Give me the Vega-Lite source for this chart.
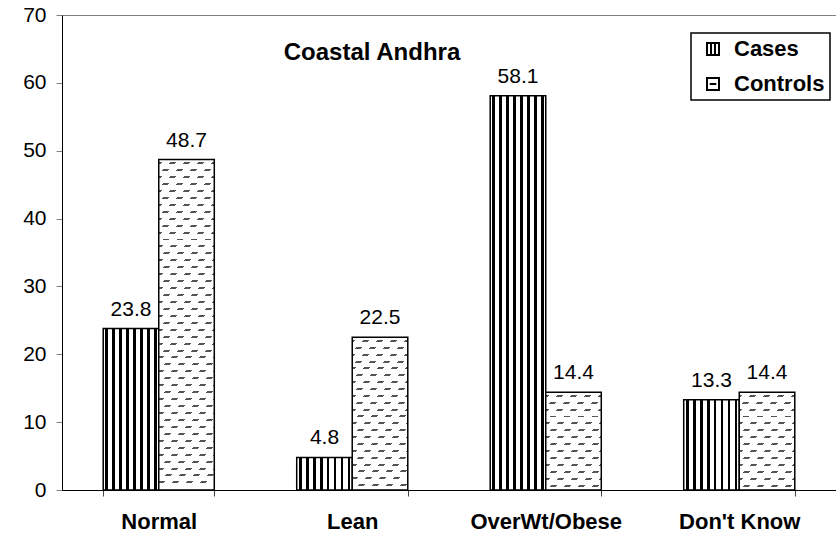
{
 "$schema": "https://vega.github.io/schema/vega-lite/v6.json",
 "width": 774, "height": 475,
 "autosize": {"type": "none"},
 "padding": {"left": 62, "top": 15, "right": 0, "bottom": 50},
 "background": "white",
 "config": {"font": "Liberation Sans", "view": {"stroke": "#808080", "strokeWidth": 1}, "legend": {"strokeWidth": 1.5}},
 "title": {"text": "Coastal Andhra", "fontSize": 24, "fontWeight": "bold", "font": "Liberation Sans", "color": "black", "anchor": "middle", "frame": "group", "dx": -77, "offset": -80, "baseline": "alphabetic"},
 "data": {"values": [
  {"category": "Normal", "series": "Cases", "value": 23.8},
  {"category": "Normal", "series": "Controls", "value": 48.7},
  {"category": "Lean", "series": "Cases", "value": 4.8},
  {"category": "Lean", "series": "Controls", "value": 22.5},
  {"category": "OverWt/Obese", "series": "Cases", "value": 58.1},
  {"category": "OverWt/Obese", "series": "Controls", "value": 14.4},
  {"category": "Don't Know", "series": "Cases", "value": 13.3},
  {"category": "Don't Know", "series": "Controls", "value": 14.4}
 ]},
 "encoding": {
  "x": {"field": "category", "type": "nominal", "sort": ["Normal", "Lean", "OverWt/Obese", "Don't Know"],
        "scale": {"paddingInner": 0.426, "paddingOuter": 0.213},
        "axis": {"title": null, "labelAngle": 0, "labelFontSize": 22, "labelFontWeight": "bold", "labelColor": "black", "labelFont": "Liberation Sans", "tickBand": "extent", "tickSize": 6, "tickColor": "#444", "domainColor": "black", "domainWidth": 1, "labelPadding": 15, "grid": false}},
  "xOffset": {"field": "series", "type": "nominal", "sort": ["Cases", "Controls"], "scale": {"paddingInner": 0, "paddingOuter": 0}},
  "y": {"field": "value", "type": "quantitative", "scale": {"domain": [0, 70], "nice": false},
        "axis": {"title": null, "values": [0, 10, 20, 30, 40, 50, 60, 70], "labelFontSize": 21, "labelColor": "black", "labelFont": "Liberation Sans", "tickSize": 6, "tickColor": "#808080", "domainColor": "black", "domainWidth": 1, "labelPadding": 10, "grid": false}}
 },
 "layer": [
  {"transform": [{"filter": "datum.series == 'Cases'"}],
   "mark": {"type": "bar", "stroke": "black", "strokeWidth": 1.5,
    "fill": {"gradient": "linear", "x1": 0, "y1": 0, "x2": 1, "y2": 0, "stops": [
     {"offset": 0, "color": "#fff"},
     {"offset": 0.04, "color": "#fff"}, {"offset": 0.04, "color": "#000"}, {"offset": 0.09, "color": "#000"}, {"offset": 0.09, "color": "#fff"},
     {"offset": 0.165, "color": "#fff"}, {"offset": 0.165, "color": "#000"}, {"offset": 0.215, "color": "#000"}, {"offset": 0.215, "color": "#fff"},
     {"offset": 0.29, "color": "#fff"}, {"offset": 0.29, "color": "#000"}, {"offset": 0.34, "color": "#000"}, {"offset": 0.34, "color": "#fff"},
     {"offset": 0.415, "color": "#fff"}, {"offset": 0.415, "color": "#000"}, {"offset": 0.465, "color": "#000"}, {"offset": 0.465, "color": "#fff"},
     {"offset": 0.54, "color": "#fff"}, {"offset": 0.54, "color": "#000"}, {"offset": 0.59, "color": "#000"}, {"offset": 0.59, "color": "#fff"},
     {"offset": 0.665, "color": "#fff"}, {"offset": 0.665, "color": "#000"}, {"offset": 0.715, "color": "#000"}, {"offset": 0.715, "color": "#fff"},
     {"offset": 0.79, "color": "#fff"}, {"offset": 0.79, "color": "#000"}, {"offset": 0.84, "color": "#000"}, {"offset": 0.84, "color": "#fff"},
     {"offset": 0.915, "color": "#fff"}, {"offset": 0.915, "color": "#000"}, {"offset": 0.965, "color": "#000"}, {"offset": 0.965, "color": "#fff"},
     {"offset": 1, "color": "#fff"}
    ]}}},
  {"transform": [{"filter": "datum.series == 'Controls' && datum.category == 'Normal'"}],
   "mark": {"type": "bar", "strokeWidth": 0,
    "fill": {"gradient": "linear", "x1": 0, "y1": 0, "x2": 0, "y2": 1, "stops": [
     {"offset": 0, "color": "#fff"},
     {"offset": 0.008, "color": "#fff"}, {"offset": 0.008, "color": "#555"}, {"offset": 0.014, "color": "#555"}, {"offset": 0.014, "color": "#fff"},
     {"offset": 0.029, "color": "#fff"}, {"offset": 0.029, "color": "#555"}, {"offset": 0.035, "color": "#555"}, {"offset": 0.035, "color": "#fff"},
     {"offset": 0.050, "color": "#fff"}, {"offset": 0.050, "color": "#555"}, {"offset": 0.056, "color": "#555"}, {"offset": 0.056, "color": "#fff"},
     {"offset": 0.071, "color": "#fff"}, {"offset": 0.071, "color": "#555"}, {"offset": 0.077, "color": "#555"}, {"offset": 0.077, "color": "#fff"},
     {"offset": 0.092, "color": "#fff"}, {"offset": 0.092, "color": "#555"}, {"offset": 0.098, "color": "#555"}, {"offset": 0.098, "color": "#fff"},
     {"offset": 0.113, "color": "#fff"}, {"offset": 0.113, "color": "#555"}, {"offset": 0.119, "color": "#555"}, {"offset": 0.119, "color": "#fff"},
     {"offset": 0.134, "color": "#fff"}, {"offset": 0.134, "color": "#555"}, {"offset": 0.140, "color": "#555"}, {"offset": 0.140, "color": "#fff"},
     {"offset": 0.155, "color": "#fff"}, {"offset": 0.155, "color": "#555"}, {"offset": 0.161, "color": "#555"}, {"offset": 0.161, "color": "#fff"},
     {"offset": 0.176, "color": "#fff"}, {"offset": 0.176, "color": "#555"}, {"offset": 0.182, "color": "#555"}, {"offset": 0.182, "color": "#fff"},
     {"offset": 0.197, "color": "#fff"}, {"offset": 0.197, "color": "#555"}, {"offset": 0.203, "color": "#555"}, {"offset": 0.203, "color": "#fff"},
     {"offset": 0.218, "color": "#fff"}, {"offset": 0.218, "color": "#555"}, {"offset": 0.224, "color": "#555"}, {"offset": 0.224, "color": "#fff"},
     {"offset": 0.239, "color": "#fff"}, {"offset": 0.239, "color": "#555"}, {"offset": 0.245, "color": "#555"}, {"offset": 0.245, "color": "#fff"},
     {"offset": 0.260, "color": "#fff"}, {"offset": 0.260, "color": "#555"}, {"offset": 0.266, "color": "#555"}, {"offset": 0.266, "color": "#fff"},
     {"offset": 0.281, "color": "#fff"}, {"offset": 0.281, "color": "#555"}, {"offset": 0.287, "color": "#555"}, {"offset": 0.287, "color": "#fff"},
     {"offset": 0.302, "color": "#fff"}, {"offset": 0.302, "color": "#555"}, {"offset": 0.308, "color": "#555"}, {"offset": 0.308, "color": "#fff"},
     {"offset": 0.323, "color": "#fff"}, {"offset": 0.323, "color": "#555"}, {"offset": 0.329, "color": "#555"}, {"offset": 0.329, "color": "#fff"},
     {"offset": 0.344, "color": "#fff"}, {"offset": 0.344, "color": "#555"}, {"offset": 0.350, "color": "#555"}, {"offset": 0.350, "color": "#fff"},
     {"offset": 0.365, "color": "#fff"}, {"offset": 0.365, "color": "#555"}, {"offset": 0.371, "color": "#555"}, {"offset": 0.371, "color": "#fff"},
     {"offset": 0.386, "color": "#fff"}, {"offset": 0.386, "color": "#555"}, {"offset": 0.392, "color": "#555"}, {"offset": 0.392, "color": "#fff"},
     {"offset": 0.407, "color": "#fff"}, {"offset": 0.407, "color": "#555"}, {"offset": 0.413, "color": "#555"}, {"offset": 0.413, "color": "#fff"},
     {"offset": 0.428, "color": "#fff"}, {"offset": 0.428, "color": "#555"}, {"offset": 0.434, "color": "#555"}, {"offset": 0.434, "color": "#fff"},
     {"offset": 0.449, "color": "#fff"}, {"offset": 0.449, "color": "#555"}, {"offset": 0.455, "color": "#555"}, {"offset": 0.455, "color": "#fff"},
     {"offset": 0.470, "color": "#fff"}, {"offset": 0.470, "color": "#555"}, {"offset": 0.476, "color": "#555"}, {"offset": 0.476, "color": "#fff"},
     {"offset": 0.491, "color": "#fff"}, {"offset": 0.491, "color": "#555"}, {"offset": 0.497, "color": "#555"}, {"offset": 0.497, "color": "#fff"},
     {"offset": 0.512, "color": "#fff"}, {"offset": 0.512, "color": "#555"}, {"offset": 0.518, "color": "#555"}, {"offset": 0.518, "color": "#fff"},
     {"offset": 0.533, "color": "#fff"}, {"offset": 0.533, "color": "#555"}, {"offset": 0.539, "color": "#555"}, {"offset": 0.539, "color": "#fff"},
     {"offset": 0.554, "color": "#fff"}, {"offset": 0.554, "color": "#555"}, {"offset": 0.560, "color": "#555"}, {"offset": 0.560, "color": "#fff"},
     {"offset": 0.575, "color": "#fff"}, {"offset": 0.575, "color": "#555"}, {"offset": 0.581, "color": "#555"}, {"offset": 0.581, "color": "#fff"},
     {"offset": 0.596, "color": "#fff"}, {"offset": 0.596, "color": "#555"}, {"offset": 0.602, "color": "#555"}, {"offset": 0.602, "color": "#fff"},
     {"offset": 0.617, "color": "#fff"}, {"offset": 0.617, "color": "#555"}, {"offset": 0.623, "color": "#555"}, {"offset": 0.623, "color": "#fff"},
     {"offset": 0.638, "color": "#fff"}, {"offset": 0.638, "color": "#555"}, {"offset": 0.644, "color": "#555"}, {"offset": 0.644, "color": "#fff"},
     {"offset": 0.659, "color": "#fff"}, {"offset": 0.659, "color": "#555"}, {"offset": 0.665, "color": "#555"}, {"offset": 0.665, "color": "#fff"},
     {"offset": 0.680, "color": "#fff"}, {"offset": 0.680, "color": "#555"}, {"offset": 0.686, "color": "#555"}, {"offset": 0.686, "color": "#fff"},
     {"offset": 0.701, "color": "#fff"}, {"offset": 0.701, "color": "#555"}, {"offset": 0.707, "color": "#555"}, {"offset": 0.707, "color": "#fff"},
     {"offset": 0.722, "color": "#fff"}, {"offset": 0.722, "color": "#555"}, {"offset": 0.728, "color": "#555"}, {"offset": 0.728, "color": "#fff"},
     {"offset": 0.743, "color": "#fff"}, {"offset": 0.743, "color": "#555"}, {"offset": 0.749, "color": "#555"}, {"offset": 0.749, "color": "#fff"},
     {"offset": 0.764, "color": "#fff"}, {"offset": 0.764, "color": "#555"}, {"offset": 0.770, "color": "#555"}, {"offset": 0.770, "color": "#fff"},
     {"offset": 0.785, "color": "#fff"}, {"offset": 0.785, "color": "#555"}, {"offset": 0.791, "color": "#555"}, {"offset": 0.791, "color": "#fff"},
     {"offset": 0.806, "color": "#fff"}, {"offset": 0.806, "color": "#555"}, {"offset": 0.812, "color": "#555"}, {"offset": 0.812, "color": "#fff"},
     {"offset": 0.827, "color": "#fff"}, {"offset": 0.827, "color": "#555"}, {"offset": 0.833, "color": "#555"}, {"offset": 0.833, "color": "#fff"},
     {"offset": 0.848, "color": "#fff"}, {"offset": 0.848, "color": "#555"}, {"offset": 0.854, "color": "#555"}, {"offset": 0.854, "color": "#fff"},
     {"offset": 0.869, "color": "#fff"}, {"offset": 0.869, "color": "#555"}, {"offset": 0.875, "color": "#555"}, {"offset": 0.875, "color": "#fff"},
     {"offset": 0.890, "color": "#fff"}, {"offset": 0.890, "color": "#555"}, {"offset": 0.896, "color": "#555"}, {"offset": 0.896, "color": "#fff"},
     {"offset": 0.911, "color": "#fff"}, {"offset": 0.911, "color": "#555"}, {"offset": 0.917, "color": "#555"}, {"offset": 0.917, "color": "#fff"},
     {"offset": 0.932, "color": "#fff"}, {"offset": 0.932, "color": "#555"}, {"offset": 0.938, "color": "#555"}, {"offset": 0.938, "color": "#fff"},
     {"offset": 0.953, "color": "#fff"}, {"offset": 0.953, "color": "#555"}, {"offset": 0.959, "color": "#555"}, {"offset": 0.959, "color": "#fff"},
     {"offset": 0.974, "color": "#fff"}, {"offset": 0.974, "color": "#555"}, {"offset": 0.980, "color": "#555"}, {"offset": 0.980, "color": "#fff"},
     {"offset": 1, "color": "#fff"}
    ]}}},
  {"transform": [{"filter": "datum.series == 'Controls' && datum.category == 'Normal'"}],
   "mark": {"type": "bar", "strokeWidth": 0,
    "fill": {"gradient": "linear", "x1": 0, "y1": 0, "x2": 0.1937, "y2": 1.1536, "stops": [
     {"offset": 0, "color": "rgba(255,255,255,0)"}, {"offset": 0.0161, "color": "rgba(255,255,255,0)"}, {"offset": 0.0161, "color": "#fff"}, {"offset": 0.0357, "color": "#fff"},
     {"offset": 0.0357, "color": "rgba(255,255,255,0)"}, {"offset": 0.0518, "color": "rgba(255,255,255,0)"}, {"offset": 0.0518, "color": "#fff"}, {"offset": 0.0714, "color": "#fff"},
     {"offset": 0.0714, "color": "rgba(255,255,255,0)"}, {"offset": 0.0875, "color": "rgba(255,255,255,0)"}, {"offset": 0.0875, "color": "#fff"}, {"offset": 0.1071, "color": "#fff"},
     {"offset": 0.1071, "color": "rgba(255,255,255,0)"}, {"offset": 0.1232, "color": "rgba(255,255,255,0)"}, {"offset": 0.1232, "color": "#fff"}, {"offset": 0.1429, "color": "#fff"},
     {"offset": 0.1429, "color": "rgba(255,255,255,0)"}, {"offset": 0.1590, "color": "rgba(255,255,255,0)"}, {"offset": 0.1590, "color": "#fff"}, {"offset": 0.1786, "color": "#fff"},
     {"offset": 0.1786, "color": "rgba(255,255,255,0)"}, {"offset": 0.1947, "color": "rgba(255,255,255,0)"}, {"offset": 0.1947, "color": "#fff"}, {"offset": 0.2143, "color": "#fff"},
     {"offset": 0.2143, "color": "rgba(255,255,255,0)"}, {"offset": 0.2304, "color": "rgba(255,255,255,0)"}, {"offset": 0.2304, "color": "#fff"}, {"offset": 0.25, "color": "#fff"},
     {"offset": 0.25, "color": "rgba(255,255,255,0)"}, {"offset": 0.2661, "color": "rgba(255,255,255,0)"}, {"offset": 0.2661, "color": "#fff"}, {"offset": 0.2857, "color": "#fff"},
     {"offset": 0.2857, "color": "rgba(255,255,255,0)"}, {"offset": 0.3018, "color": "rgba(255,255,255,0)"}, {"offset": 0.3018, "color": "#fff"}, {"offset": 0.3214, "color": "#fff"},
     {"offset": 0.3214, "color": "rgba(255,255,255,0)"}, {"offset": 0.3375, "color": "rgba(255,255,255,0)"}, {"offset": 0.3375, "color": "#fff"}, {"offset": 0.3571, "color": "#fff"},
     {"offset": 0.3571, "color": "rgba(255,255,255,0)"}, {"offset": 0.3732, "color": "rgba(255,255,255,0)"}, {"offset": 0.3732, "color": "#fff"}, {"offset": 0.3929, "color": "#fff"},
     {"offset": 0.3929, "color": "rgba(255,255,255,0)"}, {"offset": 0.4090, "color": "rgba(255,255,255,0)"}, {"offset": 0.4090, "color": "#fff"}, {"offset": 0.4286, "color": "#fff"},
     {"offset": 0.4286, "color": "rgba(255,255,255,0)"}, {"offset": 0.4447, "color": "rgba(255,255,255,0)"}, {"offset": 0.4447, "color": "#fff"}, {"offset": 0.4643, "color": "#fff"},
     {"offset": 0.4643, "color": "rgba(255,255,255,0)"}, {"offset": 0.4804, "color": "rgba(255,255,255,0)"}, {"offset": 0.4804, "color": "#fff"}, {"offset": 0.5, "color": "#fff"},
     {"offset": 0.5, "color": "rgba(255,255,255,0)"}, {"offset": 0.5161, "color": "rgba(255,255,255,0)"}, {"offset": 0.5161, "color": "#fff"}, {"offset": 0.5357, "color": "#fff"},
     {"offset": 0.5357, "color": "rgba(255,255,255,0)"}, {"offset": 0.5518, "color": "rgba(255,255,255,0)"}, {"offset": 0.5518, "color": "#fff"}, {"offset": 0.5714, "color": "#fff"},
     {"offset": 0.5714, "color": "rgba(255,255,255,0)"}, {"offset": 0.5875, "color": "rgba(255,255,255,0)"}, {"offset": 0.5875, "color": "#fff"}, {"offset": 0.6071, "color": "#fff"},
     {"offset": 0.6071, "color": "rgba(255,255,255,0)"}, {"offset": 0.6232, "color": "rgba(255,255,255,0)"}, {"offset": 0.6232, "color": "#fff"}, {"offset": 0.6429, "color": "#fff"},
     {"offset": 0.6429, "color": "rgba(255,255,255,0)"}, {"offset": 0.6590, "color": "rgba(255,255,255,0)"}, {"offset": 0.6590, "color": "#fff"}, {"offset": 0.6786, "color": "#fff"},
     {"offset": 0.6786, "color": "rgba(255,255,255,0)"}, {"offset": 0.6947, "color": "rgba(255,255,255,0)"}, {"offset": 0.6947, "color": "#fff"}, {"offset": 0.7143, "color": "#fff"},
     {"offset": 0.7143, "color": "rgba(255,255,255,0)"}, {"offset": 0.7304, "color": "rgba(255,255,255,0)"}, {"offset": 0.7304, "color": "#fff"}, {"offset": 0.75, "color": "#fff"},
     {"offset": 0.75, "color": "rgba(255,255,255,0)"}, {"offset": 0.7661, "color": "rgba(255,255,255,0)"}, {"offset": 0.7661, "color": "#fff"}, {"offset": 0.7857, "color": "#fff"},
     {"offset": 0.7857, "color": "rgba(255,255,255,0)"}, {"offset": 0.8018, "color": "rgba(255,255,255,0)"}, {"offset": 0.8018, "color": "#fff"}, {"offset": 0.8214, "color": "#fff"},
     {"offset": 0.8214, "color": "rgba(255,255,255,0)"}, {"offset": 0.8375, "color": "rgba(255,255,255,0)"}, {"offset": 0.8375, "color": "#fff"}, {"offset": 0.8571, "color": "#fff"},
     {"offset": 0.8571, "color": "rgba(255,255,255,0)"}, {"offset": 0.8732, "color": "rgba(255,255,255,0)"}, {"offset": 0.8732, "color": "#fff"}, {"offset": 0.8929, "color": "#fff"},
     {"offset": 0.8929, "color": "rgba(255,255,255,0)"}, {"offset": 0.9090, "color": "rgba(255,255,255,0)"}, {"offset": 0.9090, "color": "#fff"}, {"offset": 0.9286, "color": "#fff"},
     {"offset": 0.9286, "color": "rgba(255,255,255,0)"}, {"offset": 0.9447, "color": "rgba(255,255,255,0)"}, {"offset": 0.9447, "color": "#fff"}, {"offset": 0.9643, "color": "#fff"},
     {"offset": 0.9643, "color": "rgba(255,255,255,0)"}, {"offset": 0.9804, "color": "rgba(255,255,255,0)"}, {"offset": 0.9804, "color": "#fff"}, {"offset": 1, "color": "#fff"}
    ]}}},
  {"transform": [{"filter": "datum.series == 'Controls' && datum.category == 'Lean'"}],
   "mark": {"type": "bar", "strokeWidth": 0,
    "fill": {"gradient": "linear", "x1": 0, "y1": 0, "x2": 0, "y2": 1, "stops": [
     {"offset": 0, "color": "#fff"},
     {"offset": 0.017, "color": "#fff"}, {"offset": 0.017, "color": "#555"}, {"offset": 0.030, "color": "#555"}, {"offset": 0.030, "color": "#fff"},
     {"offset": 0.062, "color": "#fff"}, {"offset": 0.062, "color": "#555"}, {"offset": 0.075, "color": "#555"}, {"offset": 0.075, "color": "#fff"},
     {"offset": 0.107, "color": "#fff"}, {"offset": 0.107, "color": "#555"}, {"offset": 0.120, "color": "#555"}, {"offset": 0.120, "color": "#fff"},
     {"offset": 0.152, "color": "#fff"}, {"offset": 0.152, "color": "#555"}, {"offset": 0.165, "color": "#555"}, {"offset": 0.165, "color": "#fff"},
     {"offset": 0.197, "color": "#fff"}, {"offset": 0.197, "color": "#555"}, {"offset": 0.210, "color": "#555"}, {"offset": 0.210, "color": "#fff"},
     {"offset": 0.242, "color": "#fff"}, {"offset": 0.242, "color": "#555"}, {"offset": 0.255, "color": "#555"}, {"offset": 0.255, "color": "#fff"},
     {"offset": 0.287, "color": "#fff"}, {"offset": 0.287, "color": "#555"}, {"offset": 0.300, "color": "#555"}, {"offset": 0.300, "color": "#fff"},
     {"offset": 0.332, "color": "#fff"}, {"offset": 0.332, "color": "#555"}, {"offset": 0.345, "color": "#555"}, {"offset": 0.345, "color": "#fff"},
     {"offset": 0.377, "color": "#fff"}, {"offset": 0.377, "color": "#555"}, {"offset": 0.390, "color": "#555"}, {"offset": 0.390, "color": "#fff"},
     {"offset": 0.422, "color": "#fff"}, {"offset": 0.422, "color": "#555"}, {"offset": 0.435, "color": "#555"}, {"offset": 0.435, "color": "#fff"},
     {"offset": 0.467, "color": "#fff"}, {"offset": 0.467, "color": "#555"}, {"offset": 0.480, "color": "#555"}, {"offset": 0.480, "color": "#fff"},
     {"offset": 0.512, "color": "#fff"}, {"offset": 0.512, "color": "#555"}, {"offset": 0.525, "color": "#555"}, {"offset": 0.525, "color": "#fff"},
     {"offset": 0.557, "color": "#fff"}, {"offset": 0.557, "color": "#555"}, {"offset": 0.570, "color": "#555"}, {"offset": 0.570, "color": "#fff"},
     {"offset": 0.602, "color": "#fff"}, {"offset": 0.602, "color": "#555"}, {"offset": 0.615, "color": "#555"}, {"offset": 0.615, "color": "#fff"},
     {"offset": 0.647, "color": "#fff"}, {"offset": 0.647, "color": "#555"}, {"offset": 0.660, "color": "#555"}, {"offset": 0.660, "color": "#fff"},
     {"offset": 0.692, "color": "#fff"}, {"offset": 0.692, "color": "#555"}, {"offset": 0.705, "color": "#555"}, {"offset": 0.705, "color": "#fff"},
     {"offset": 0.737, "color": "#fff"}, {"offset": 0.737, "color": "#555"}, {"offset": 0.750, "color": "#555"}, {"offset": 0.750, "color": "#fff"},
     {"offset": 0.782, "color": "#fff"}, {"offset": 0.782, "color": "#555"}, {"offset": 0.795, "color": "#555"}, {"offset": 0.795, "color": "#fff"},
     {"offset": 0.827, "color": "#fff"}, {"offset": 0.827, "color": "#555"}, {"offset": 0.840, "color": "#555"}, {"offset": 0.840, "color": "#fff"},
     {"offset": 0.872, "color": "#fff"}, {"offset": 0.872, "color": "#555"}, {"offset": 0.885, "color": "#555"}, {"offset": 0.885, "color": "#fff"},
     {"offset": 0.917, "color": "#fff"}, {"offset": 0.917, "color": "#555"}, {"offset": 0.930, "color": "#555"}, {"offset": 0.930, "color": "#fff"},
     {"offset": 0.962, "color": "#fff"}, {"offset": 0.962, "color": "#555"}, {"offset": 0.975, "color": "#555"}, {"offset": 0.975, "color": "#fff"},
     {"offset": 1, "color": "#fff"}
    ]}}},
  {"transform": [{"filter": "datum.series == 'Controls' && datum.category == 'Lean'"}],
   "mark": {"type": "bar", "strokeWidth": 0,
    "fill": {"gradient": "linear", "x1": 0, "y1": 0, "x2": 0.4415, "y2": 1.2148, "stops": [
     {"offset": 0, "color": "rgba(255,255,255,0)"}, {"offset": 0.03, "color": "rgba(255,255,255,0)"}, {"offset": 0.03, "color": "#fff"}, {"offset": 0.0667, "color": "#fff"},
     {"offset": 0.0667, "color": "rgba(255,255,255,0)"}, {"offset": 0.0967, "color": "rgba(255,255,255,0)"}, {"offset": 0.0967, "color": "#fff"}, {"offset": 0.1333, "color": "#fff"},
     {"offset": 0.1333, "color": "rgba(255,255,255,0)"}, {"offset": 0.1633, "color": "rgba(255,255,255,0)"}, {"offset": 0.1633, "color": "#fff"}, {"offset": 0.2, "color": "#fff"},
     {"offset": 0.2, "color": "rgba(255,255,255,0)"}, {"offset": 0.23, "color": "rgba(255,255,255,0)"}, {"offset": 0.23, "color": "#fff"}, {"offset": 0.2667, "color": "#fff"},
     {"offset": 0.2667, "color": "rgba(255,255,255,0)"}, {"offset": 0.2967, "color": "rgba(255,255,255,0)"}, {"offset": 0.2967, "color": "#fff"}, {"offset": 0.3333, "color": "#fff"},
     {"offset": 0.3333, "color": "rgba(255,255,255,0)"}, {"offset": 0.3633, "color": "rgba(255,255,255,0)"}, {"offset": 0.3633, "color": "#fff"}, {"offset": 0.4, "color": "#fff"},
     {"offset": 0.4, "color": "rgba(255,255,255,0)"}, {"offset": 0.43, "color": "rgba(255,255,255,0)"}, {"offset": 0.43, "color": "#fff"}, {"offset": 0.4667, "color": "#fff"},
     {"offset": 0.4667, "color": "rgba(255,255,255,0)"}, {"offset": 0.4967, "color": "rgba(255,255,255,0)"}, {"offset": 0.4967, "color": "#fff"}, {"offset": 0.5333, "color": "#fff"},
     {"offset": 0.5333, "color": "rgba(255,255,255,0)"}, {"offset": 0.5633, "color": "rgba(255,255,255,0)"}, {"offset": 0.5633, "color": "#fff"}, {"offset": 0.6, "color": "#fff"},
     {"offset": 0.6, "color": "rgba(255,255,255,0)"}, {"offset": 0.63, "color": "rgba(255,255,255,0)"}, {"offset": 0.63, "color": "#fff"}, {"offset": 0.6667, "color": "#fff"},
     {"offset": 0.6667, "color": "rgba(255,255,255,0)"}, {"offset": 0.6967, "color": "rgba(255,255,255,0)"}, {"offset": 0.6967, "color": "#fff"}, {"offset": 0.7333, "color": "#fff"},
     {"offset": 0.7333, "color": "rgba(255,255,255,0)"}, {"offset": 0.7633, "color": "rgba(255,255,255,0)"}, {"offset": 0.7633, "color": "#fff"}, {"offset": 0.8, "color": "#fff"},
     {"offset": 0.8, "color": "rgba(255,255,255,0)"}, {"offset": 0.83, "color": "rgba(255,255,255,0)"}, {"offset": 0.83, "color": "#fff"}, {"offset": 0.8667, "color": "#fff"},
     {"offset": 0.8667, "color": "rgba(255,255,255,0)"}, {"offset": 0.8967, "color": "rgba(255,255,255,0)"}, {"offset": 0.8967, "color": "#fff"}, {"offset": 0.9333, "color": "#fff"},
     {"offset": 0.9333, "color": "rgba(255,255,255,0)"}, {"offset": 0.9633, "color": "rgba(255,255,255,0)"}, {"offset": 0.9633, "color": "#fff"}, {"offset": 1, "color": "#fff"}
    ]}}},
  {"transform": [{"filter": "datum.series == 'Controls' && datum.value < 15"}],
   "mark": {"type": "bar", "strokeWidth": 0,
    "fill": {"gradient": "linear", "x1": 0, "y1": 0, "x2": 0, "y2": 1, "stops": [
     {"offset": 0, "color": "#fff"},
     {"offset": 0.025, "color": "#fff"}, {"offset": 0.025, "color": "#555"}, {"offset": 0.045, "color": "#555"}, {"offset": 0.045, "color": "#fff"},
     {"offset": 0.096, "color": "#fff"}, {"offset": 0.096, "color": "#555"}, {"offset": 0.116, "color": "#555"}, {"offset": 0.116, "color": "#fff"},
     {"offset": 0.167, "color": "#fff"}, {"offset": 0.167, "color": "#555"}, {"offset": 0.187, "color": "#555"}, {"offset": 0.187, "color": "#fff"},
     {"offset": 0.238, "color": "#fff"}, {"offset": 0.238, "color": "#555"}, {"offset": 0.258, "color": "#555"}, {"offset": 0.258, "color": "#fff"},
     {"offset": 0.309, "color": "#fff"}, {"offset": 0.309, "color": "#555"}, {"offset": 0.329, "color": "#555"}, {"offset": 0.329, "color": "#fff"},
     {"offset": 0.380, "color": "#fff"}, {"offset": 0.380, "color": "#555"}, {"offset": 0.400, "color": "#555"}, {"offset": 0.400, "color": "#fff"},
     {"offset": 0.451, "color": "#fff"}, {"offset": 0.451, "color": "#555"}, {"offset": 0.471, "color": "#555"}, {"offset": 0.471, "color": "#fff"},
     {"offset": 0.522, "color": "#fff"}, {"offset": 0.522, "color": "#555"}, {"offset": 0.542, "color": "#555"}, {"offset": 0.542, "color": "#fff"},
     {"offset": 0.593, "color": "#fff"}, {"offset": 0.593, "color": "#555"}, {"offset": 0.613, "color": "#555"}, {"offset": 0.613, "color": "#fff"},
     {"offset": 0.664, "color": "#fff"}, {"offset": 0.664, "color": "#555"}, {"offset": 0.684, "color": "#555"}, {"offset": 0.684, "color": "#fff"},
     {"offset": 0.735, "color": "#fff"}, {"offset": 0.735, "color": "#555"}, {"offset": 0.755, "color": "#555"}, {"offset": 0.755, "color": "#fff"},
     {"offset": 0.806, "color": "#fff"}, {"offset": 0.806, "color": "#555"}, {"offset": 0.826, "color": "#555"}, {"offset": 0.826, "color": "#fff"},
     {"offset": 0.877, "color": "#fff"}, {"offset": 0.877, "color": "#555"}, {"offset": 0.897, "color": "#555"}, {"offset": 0.897, "color": "#fff"},
     {"offset": 0.948, "color": "#fff"}, {"offset": 0.948, "color": "#555"}, {"offset": 0.968, "color": "#555"}, {"offset": 0.968, "color": "#fff"},
     {"offset": 1, "color": "#fff"}
    ]}}},
  {"transform": [{"filter": "datum.series == 'Controls' && datum.value < 15"}],
   "mark": {"type": "bar", "strokeWidth": 0,
    "fill": {"gradient": "linear", "x1": 0, "y1": 0, "x2": 0.6770, "y2": 1.1917, "stops": [
     {"offset": 0, "color": "rgba(255,255,255,0)"}, {"offset": 0.0409, "color": "rgba(255,255,255,0)"}, {"offset": 0.0409, "color": "#fff"}, {"offset": 0.0909, "color": "#fff"},
     {"offset": 0.0909, "color": "rgba(255,255,255,0)"}, {"offset": 0.1318, "color": "rgba(255,255,255,0)"}, {"offset": 0.1318, "color": "#fff"}, {"offset": 0.1818, "color": "#fff"},
     {"offset": 0.1818, "color": "rgba(255,255,255,0)"}, {"offset": 0.2227, "color": "rgba(255,255,255,0)"}, {"offset": 0.2227, "color": "#fff"}, {"offset": 0.2727, "color": "#fff"},
     {"offset": 0.2727, "color": "rgba(255,255,255,0)"}, {"offset": 0.3136, "color": "rgba(255,255,255,0)"}, {"offset": 0.3136, "color": "#fff"}, {"offset": 0.3636, "color": "#fff"},
     {"offset": 0.3636, "color": "rgba(255,255,255,0)"}, {"offset": 0.4045, "color": "rgba(255,255,255,0)"}, {"offset": 0.4045, "color": "#fff"}, {"offset": 0.4545, "color": "#fff"},
     {"offset": 0.4545, "color": "rgba(255,255,255,0)"}, {"offset": 0.4954, "color": "rgba(255,255,255,0)"}, {"offset": 0.4954, "color": "#fff"}, {"offset": 0.5455, "color": "#fff"},
     {"offset": 0.5455, "color": "rgba(255,255,255,0)"}, {"offset": 0.5864, "color": "rgba(255,255,255,0)"}, {"offset": 0.5864, "color": "#fff"}, {"offset": 0.6364, "color": "#fff"},
     {"offset": 0.6364, "color": "rgba(255,255,255,0)"}, {"offset": 0.6773, "color": "rgba(255,255,255,0)"}, {"offset": 0.6773, "color": "#fff"}, {"offset": 0.7273, "color": "#fff"},
     {"offset": 0.7273, "color": "rgba(255,255,255,0)"}, {"offset": 0.7682, "color": "rgba(255,255,255,0)"}, {"offset": 0.7682, "color": "#fff"}, {"offset": 0.8182, "color": "#fff"},
     {"offset": 0.8182, "color": "rgba(255,255,255,0)"}, {"offset": 0.8591, "color": "rgba(255,255,255,0)"}, {"offset": 0.8591, "color": "#fff"}, {"offset": 0.9091, "color": "#fff"},
     {"offset": 0.9091, "color": "rgba(255,255,255,0)"}, {"offset": 0.95, "color": "rgba(255,255,255,0)"}, {"offset": 0.95, "color": "#fff"}, {"offset": 1, "color": "#fff"}
    ]}}},
  {"transform": [{"filter": "datum.series == 'Controls'"}],
   "mark": {"type": "bar", "stroke": "black", "strokeWidth": 1.5, "fill": "transparent"}},
  {"mark": {"type": "text", "fontSize": 21, "font": "Liberation Sans", "color": "black", "baseline": "alphabetic", "dy": -13},
   "encoding": {"text": {"field": "value", "type": "quantitative", "format": ".1f"}}},
  {"mark": {"type": "point", "opacity": 0, "filled": false},
   "encoding": {"shape": {"field": "series", "type": "nominal",
     "scale": {"domain": ["Cases", "Controls"], "range": ["M-1,-1H1V1H-1Z M-0.33,-1V1 M0.33,-1V1", "M-1,-1H1V1H-1Z M-0.55,0H0.55"]},
     "legend": {"title": null, "orient": "none", "legendX": 629, "legendY": 18, "padding": 5, "symbolOffset": 6, "labelOffset": 10, "rowPadding": 13,
       "labelFontSize": 22, "labelFontWeight": "bold", "labelFont": "Liberation Sans", "labelColor": "black", "symbolSize": 144,
       "strokeColor": "black", "fillColor": "white", "symbolStrokeWidth": 2, "symbolStrokeColor": "black", "symbolFillColor": "white", "symbolOpacity": 1,
       "encode": {"symbols": {"update": {"opacity": {"value": 1}, "fill": {"value": "white"}, "stroke": {"value": "black"}, "strokeWidth": {"value": 2}}}}}}}}
 ]
}
